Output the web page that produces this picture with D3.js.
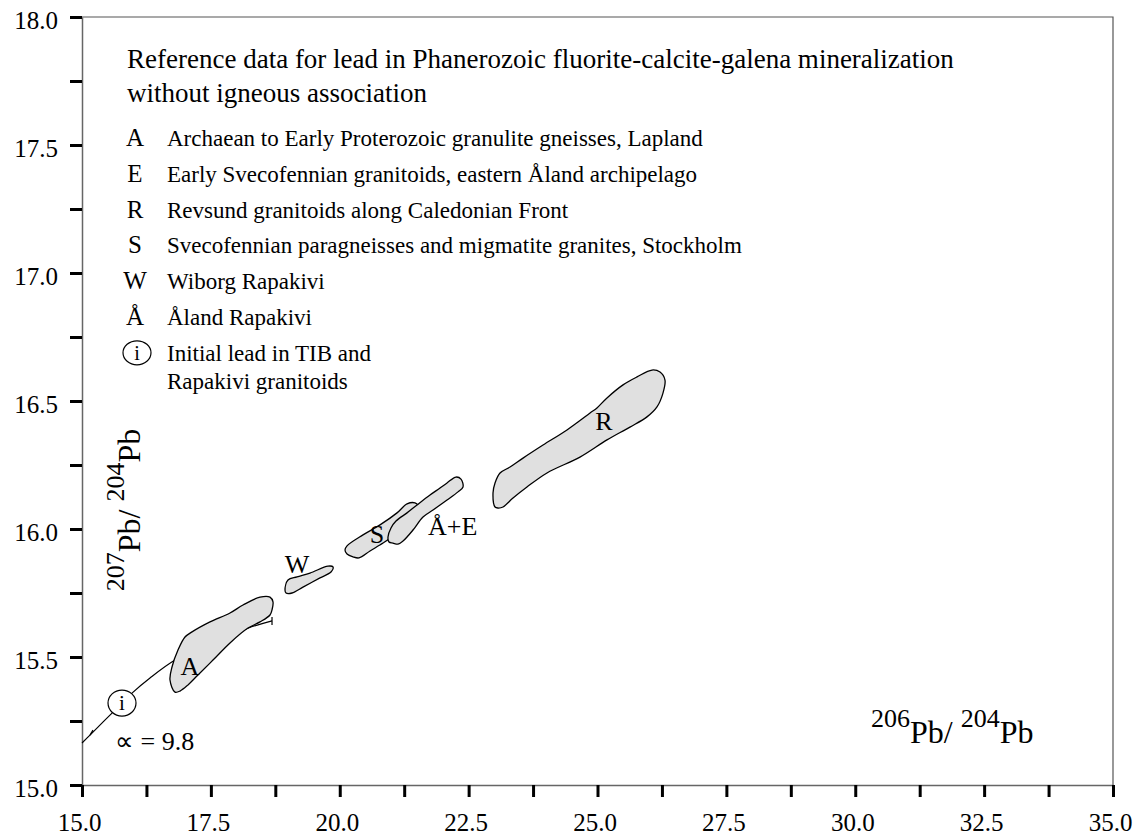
<!DOCTYPE html>
<html>
<head>
<meta charset="utf-8">
<script src="https://cdn.jsdelivr.net/npm/d3@7"></script>
<style>
  html, body { margin: 0; padding: 0; background: #fff; }
  svg { display: block; }
  text { font-family: "Liberation Serif", "Times New Roman", serif; fill: #000; }
</style>
</head>
<body>
<svg id="chart" width="1144" height="837"></svg>
<script>
// Axis ranges and tick values (206Pb/204Pb on x, 207Pb/204Pb on y)
const xDomain = [15, 35];
const yDomain = [15, 18];
const xTicks = [15, 16.25, 17.5, 18.75, 20, 21.25, 22.5, 23.75, 25, 26.25, 27.5, 28.75, 30, 31.25, 32.5, 33.75, 35];
const xTickLabels = ["15.0", "", "17.5", "", "20.0", "", "22.5", "", "25.0", "", "27.5", "", "30.0", "", "32.5", "", "35.0"];
const yTicks = [15, 15.25, 15.5, 15.75, 16, 16.25, 16.5, 16.75, 17, 17.25, 17.5, 17.75, 18];
const yTickLabels = ["15.0", "", "15.5", "", "16.0", "", "16.5", "", "17.0", "", "17.5", "", "18.0"];

// Field outlines, [206Pb/204Pb, 207Pb/204Pb]
const fieldA = [[16.804,15.363],[16.707,15.410],[16.746,15.461],[16.862,15.527],[16.998,15.578],[17.134,15.598],[17.483,15.637],[17.871,15.672],[18.123,15.703],[18.453,15.734],[18.647,15.734],[18.705,15.715],[18.686,15.684],[18.647,15.664],[18.453,15.637],[18.220,15.613],[17.871,15.555],[17.541,15.488],[17.250,15.430],[17.056,15.391],[16.901,15.367]];
const fieldW = [[18.938,15.762],[18.996,15.801],[19.171,15.813],[19.423,15.828],[19.772,15.855],[19.869,15.852],[19.830,15.832],[19.617,15.809],[19.287,15.773],[19.074,15.750],[18.958,15.750]];
const fieldS = [[20.102,15.918],[20.141,15.934],[20.451,15.977],[20.781,16.016],[21.111,16.063],[21.305,16.098],[21.460,16.102],[21.518,16.090],[21.363,16.047],[21.111,15.996],[20.975,15.965],[20.839,15.945],[20.587,15.914],[20.373,15.887],[20.257,15.891],[20.141,15.902]];
const fieldAE = [[20.955,15.949],[20.936,15.969],[20.994,16.004],[21.091,16.031],[21.305,16.063],[21.499,16.094],[21.751,16.133],[21.945,16.160],[22.081,16.180],[22.255,16.203],[22.352,16.195],[22.391,16.164],[22.294,16.145],[22.081,16.113],[21.809,16.074],[21.615,16.047],[21.421,15.996],[21.227,15.953],[21.130,15.941],[21.033,15.945]];
const fieldR = [[23.012,16.086],[22.973,16.141],[23.012,16.180],[23.109,16.219],[23.303,16.242],[23.555,16.277],[23.943,16.328],[24.408,16.387],[24.855,16.453],[24.990,16.473],[25.184,16.512],[25.495,16.563],[25.766,16.594],[26.057,16.621],[26.213,16.613],[26.309,16.582],[26.270,16.531],[26.154,16.477],[25.960,16.438],[25.630,16.398],[25.184,16.348],[24.660,16.281],[24.020,16.219],[23.632,16.164],[23.361,16.121],[23.167,16.086],[23.070,16.082]];
const fields = [fieldA, fieldW, fieldS, fieldAE, fieldR];

// Field labels and their anchor points
const fieldLabels = ["A", "W", "S", "Å+E", "R"];
const fieldLabelPos = [[17.095,15.430],[19.171,15.828],[20.723,15.945],[21.712,15.977],[25.126,16.387]];
const fieldLabelAnchor = ["middle", "middle", "middle", "start", "middle"];

// Growth curve (mu = 9.8)
const growthCurve = [[15.0,15.164],[15.155,15.195],[15.582,15.281],[15.970,15.359],[16.319,15.418],[16.804,15.488],[17.483,15.555],[18.220,15.613],[18.686,15.641]];
const initialLead = [15.776, 15.320];
const curveLabel = "∝ = 9.8";
const curveLabelPos = [15.640, 15.137];

// Title and legend
const titleLines = ["Reference data for lead in Phanerozoic fluorite-calcite-galena mineralization", "without igneous association"];
const legendKeys = ["A", "E", "R", "S", "W", "Å"];
const legendTexts = [
  "Archaean to Early Proterozoic granulite gneisses, Lapland",
  "Early Svecofennian granitoids, eastern Åland archipelago",
  "Revsund granitoids along Caledonian Front",
  "Svecofennian paragneisses and migmatite granites, Stockholm",
  "Wiborg Rapakivi",
  "Åland Rapakivi"
];
const initialLeadText = ["Initial lead in TIB and", "Rapakivi granitoids"];

const svg = d3.select("#chart");
const plot = { left: 82, right: 1113, top: 17, bottom: 785 };

const x = d3.scaleLinear().domain(xDomain).range([plot.left, plot.right]);
const y = d3.scaleLinear().domain(yDomain).range([plot.bottom, plot.top]);

// frame: top and right edges
svg.append("path")
  .attr("d", `M${plot.left},${plot.top}H${plot.right}V${plot.bottom}`)
  .attr("fill", "none").attr("stroke", "#555").attr("stroke-width", 1.2);

// y axis
const yAxis = svg.append("g").attr("transform", `translate(${plot.left},0)`)
  .call(d3.axisLeft(y).tickValues(yTicks).tickSize(12).tickSizeOuter(0).tickPadding(12)
    .tickFormat((d, i) => yTickLabels[i]));
yAxis.select(".domain").attr("stroke", "#666").attr("stroke-width", 1.5);
yAxis.selectAll(".tick line").attr("stroke", "#000").attr("stroke-width", 3);
yAxis.selectAll(".tick text").attr("font-family", "Liberation Serif").attr("font-size", 25).attr("dy", "0.45em");

// x axis
const xAxis = svg.append("g").attr("transform", `translate(0,${plot.bottom})`)
  .call(d3.axisBottom(x).tickValues(xTicks).tickSize(12).tickSizeOuter(0).tickPadding(16)
    .tickFormat((d, i) => xTickLabels[i]));
xAxis.select(".domain").attr("stroke", "#666").attr("stroke-width", 1.5);
xAxis.selectAll(".tick line").attr("stroke", "#000").attr("stroke-width", 3);
xAxis.selectAll(".tick text").attr("font-family", "Liberation Serif").attr("font-size", 25).attr("dx", -3);

// growth curve
const curveLine = d3.line().x(d => x(d[0])).y(d => y(d[1])).curve(d3.curveCatmullRom.alpha(0.5));
svg.append("path").datum(growthCurve)
  .attr("d", curveLine).attr("fill", "none").attr("stroke", "#000").attr("stroke-width", 1.2);

// small ticks at the ends of the growth curve
{
  const s = growthCurve[1];
  svg.append("line")
    .attr("x1", x(s[0])).attr("y1", y(s[1]))
    .attr("x2", x(s[0]) + 3).attr("y2", y(s[1]) - 5)
    .attr("stroke", "#000").attr("stroke-width", 1.2);
  const e = growthCurve[growthCurve.length - 1];
  svg.append("line")
    .attr("x1", x(e[0])).attr("y1", y(e[1]) - 4)
    .attr("x2", x(e[0])).attr("y2", y(e[1]) + 4)
    .attr("stroke", "#000").attr("stroke-width", 1.2);
}

// fields
const fieldLine = d3.line().x(d => x(d[0])).y(d => y(d[1])).curve(d3.curveCatmullRomClosed.alpha(0.5));
svg.append("g").selectAll("path").data(fields).join("path")
  .attr("d", fieldLine)
  .attr("fill", "#e0e0e0").attr("stroke", "#000").attr("stroke-width", 1.3);

// field labels
svg.append("g").selectAll("text").data(fieldLabels).join("text")
  .attr("x", (d, i) => x(fieldLabelPos[i][0]))
  .attr("y", (d, i) => y(fieldLabelPos[i][1]))
  .attr("text-anchor", (d, i) => fieldLabelAnchor[i])
  .attr("font-size", 26)
  .text(d => d);

// initial lead marker on the curve
svg.append("ellipse")
  .attr("cx", x(initialLead[0])).attr("cy", y(initialLead[1]))
  .attr("rx", 14).attr("ry", 13)
  .attr("fill", "#fff").attr("stroke", "#000").attr("stroke-width", 1.2);
svg.append("text")
  .attr("x", x(initialLead[0])).attr("y", y(initialLead[1]) + 7)
  .attr("text-anchor", "middle").attr("font-size", 21).text("i");

svg.append("text")
  .attr("x", x(curveLabelPos[0])).attr("y", y(curveLabelPos[1]))
  .attr("font-size", 26).text(curveLabel);

// title
svg.append("g").selectAll("text").data(titleLines).join("text")
  .attr("x", 127).attr("y", (d, i) => 68 + i * 34)
  .attr("font-size", 27).text(d => d);

// legend
const legend = svg.append("g");
legendKeys.forEach((k, i) => {
  const yy = 146 + i * 35.8;
  legend.append("text").attr("x", 135).attr("y", yy).attr("text-anchor", "middle")
    .attr("font-size", 25).text(k);
  legend.append("text").attr("x", 167).attr("y", yy).attr("font-size", 23).text(legendTexts[i]);
});
{
  const yy = 146 + 6 * 35.8;
  legend.append("ellipse").attr("cx", 137).attr("cy", yy - 8).attr("rx", 14).attr("ry", 12)
    .attr("fill", "#fff").attr("stroke", "#000").attr("stroke-width", 1.2);
  legend.append("text").attr("x", 137).attr("y", yy - 1).attr("text-anchor", "middle")
    .attr("font-size", 20).text("i");
  initialLeadText.forEach((t, j) => {
    legend.append("text").attr("x", 167).attr("y", yy + j * 28).attr("font-size", 23).text(t);
  });
}

// axis titles with superscript mass numbers
function isotopeLabel(sel, a, b) {
  sel.append("tspan").attr("font-size", 26).attr("dy", -16).text(a);
  sel.append("tspan").attr("font-size", 32).attr("dy", 16).text("Pb/ ");
  sel.append("tspan").attr("font-size", 26).attr("dy", -16).text(b);
  sel.append("tspan").attr("font-size", 32).attr("dy", 16).text("Pb");
}
svg.append("text").attr("x", 871).attr("y", 743).call(isotopeLabel, "206", "204");
svg.append("text").attr("text-anchor", "middle")
  .attr("transform", "translate(140,510) rotate(-90)")
  .call(isotopeLabel, "207", "204");
</script>
</body>
</html>
